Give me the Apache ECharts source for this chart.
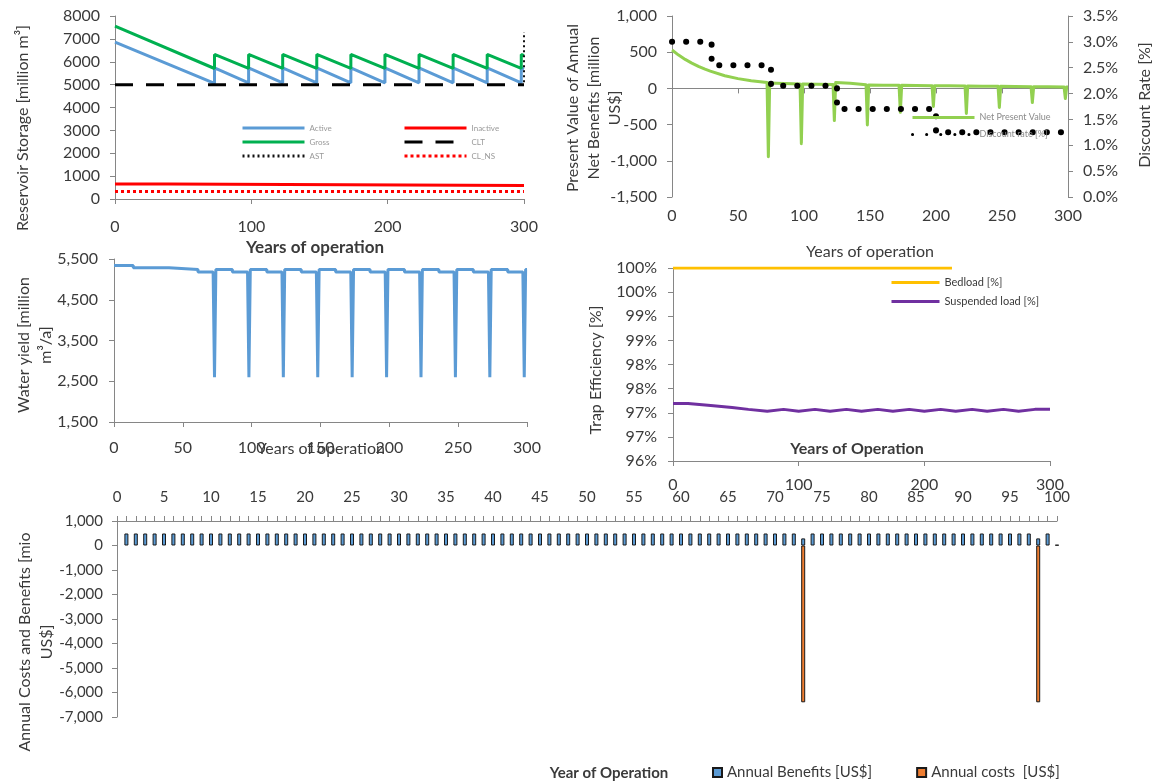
<!DOCTYPE html>
<html><head><meta charset="utf-8">
<script src="https://cdn.jsdelivr.net/npm/echarts@6/dist/echarts.min.js"></script>
<style>html,body{margin:0;padding:0;background:#fff}#c{width:1158px;height:784px}</style>
</head><body><div id="c"></div>
<script>
// ---------- Panel 1: reservoir storage ----------
const storageYears = [0,73,73,98,98,123,123,148,148,173,173,198,198,223,223,248,248,273,273,298,298,300];
const grossStorage = [7560,5705,6320,5710,6320,5710,6320,5710,6320,5710,6320,5710,6320,5710,6320,5710,6320,5710,6320,5710,6320,6270];
const activeStorage = [6860,5050,5730,5080,5730,5080,5730,5080,5730,5080,5730,5080,5730,5080,5730,5080,5730,5080,5730,5080,5730,5680];
const inactiveYears = [0,39,39,300];
const inactiveStorage = [660,660,590,590];
const cltYears = [0,300];
const cltStorage = [5000,5000];
const astYears = [300,300];
const astStorage = [5100,7300];
const clnsYears = [0,300];
const clnsStorage = [330,330];

// ---------- Panel 2: present value & discount rate ----------
const npvYears = [0,5,10,15,20,25,29,30,40,50,60,72,73,74,85,97,98,99,110,122,123,124,135,147,148,149,160,172,173,174,185,197,198,199,210,222,223,224,235,247,248,249,260,272,273,274,285,297,298,299,300];
const npvValues = [530,460,400,350,305,265,238,225,175,135,105,80,-944,75,68,62,-763,62,58,55,-445,80,70,50,-504,48,45,42,-331,42,40,38,-250,38,35,33,-345,33,30,28,-263,28,26,24,-195,24,22,20,-140,20,20];
const discYears = [0,30,30,75,75,125,125,200,200,300];
const discRates = [3.0,3.0,2.55,2.55,2.15,2.15,1.7,1.7,1.25,1.25];

// ---------- Panel 3: water yield ----------
const yieldYears = [0,14,14,40,40,61,61,72,73,74,86,86,97,98,99,111,111,122,123,124,136,136,147,148,149,161,161,172,173,174,186,186,197,198,199,211,211,222,223,224,236,236,247,248,249,261,261,272,273,274,286,286,297,298,299,300];
const yieldValues = [5340,5340,5285,5285,5240,5240,5180,5180,2600,5240,5240,5180,5180,2600,5240,5240,5180,5180,2600,5240,5240,5180,5180,2600,5240,5240,5180,5180,2600,5240,5240,5180,5180,2600,5240,5240,5180,5180,2600,5240,5240,5180,5180,2600,5240,5240,5180,5180,2600,5240,5240,5180,5180,2600,5240,5240];

// ---------- Panel 4: trap efficiency ----------
const bedloadYears = [0,222];
const bedloadTE = [100,100];
const suspYears = [0,12,12,30,30,47,47,60,60,75,75,88,88,100,100,113,113,125,125,138,138,150,150,163,163,175,175,188,188,200,200,213,213,225,225,238,238,250,250,263,263,275,275,288,288,300];
const suspTE = [97.19,97.19,97.15,97.15,97.11,97.11,97.07,97.07,97.03,97.03,97.07,97.07,97.03,97.03,97.07,97.07,97.03,97.03,97.07,97.07,97.03,97.03,97.07,97.07,97.03,97.03,97.07,97.07,97.03,97.03,97.07,97.07,97.03,97.03,97.07,97.07,97.03,97.03,97.07,97.07,97.03,97.03,97.07,97.07,97.03,97.07];

// ---------- Panel 5: annual costs and benefits ----------
const benefitYears = [1,2,3,4,5,6,7,8,9,10,11,12,13,14,15,16,17,18,19,20,21,22,23,24,25,26,27,28,29,30,31,32,33,34,35,36,37,38,39,40,41,42,43,44,45,46,47,48,49,50,51,52,53,54,55,56,57,58,59,60,61,62,63,64,65,66,67,68,69,70,71,72,73,74,75,76,77,78,79,80,81,82,83,84,85,86,87,88,89,90,91,92,93,94,95,96,97,98,99,100];
const benefitValues = [
 490,490,490,490,490,490,490,490,490,490,
 490,490,490,490,490,490,490,490,490,490,
 490,490,490,490,490,490,490,490,490,490,
 490,490,490,490,490,490,490,490,490,490,
 490,490,490,490,490,490,490,490,490,490,
 490,490,490,490,490,490,490,490,490,490,
 490,490,490,490,490,490,490,490,490,490,
 490,490,290,490,490,490,490,490,490,490,
 490,490,490,490,490,490,490,490,490,490,
 490,490,490,490,490,490,490,290,490,25];
const costYears = [73,98];
const costValues = [-6400,-6400];

const zip = (xs, ys) => xs.map((x, i) => [x, ys[i]]);

const FONT = 'Lato';
const TXT = '#3a3a3a';
const AX = '#868686';
const lbl = (extra) => Object.assign({fontFamily: FONT, fontSize: 16, color: TXT}, extra || {});
const comma = v => v.toLocaleString('en-US');
const plain = v => String(v);

function vAxis(o) {
  return Object.assign({
    type: 'value',
    axisLine: {show: true, onZero: false, lineStyle: {color: AX, width: 1}},
    axisTick: {show: true, length: 5, lineStyle: {color: AX}},
    splitLine: {show: false},
    axisLabel: lbl({margin: 14})
  }, o);
}

const lineLegend = (o) => Object.assign({
  orient: 'vertical', itemHeight: 10, itemGap: 6,
  itemStyle: {opacity: 0, borderWidth: 0},
  lineStyle: {width: 3},
  textStyle: {fontFamily: FONT, fontSize: 8, color: '#999'}
}, o);

const chart = echarts.init(document.getElementById('c'), null, {renderer: 'canvas'});

const option = {
  animation: false,
  backgroundColor: '#ffffff',
  grid: [
    {left: 115, top: 16, width: 409, height: 183, outerBoundsMode: 'none'},
    {left: 672, top: 16, width: 396, height: 181, outerBoundsMode: 'none'},
    {left: 114, top: 259, width: 413, height: 163, outerBoundsMode: 'none'},
    {left: 673, top: 268, width: 377, height: 193, outerBoundsMode: 'none'},
    {left: 117, top: 521, width: 940, height: 196, outerBoundsMode: 'none'}
  ],
  xAxis: [
    vAxis({gridIndex: 0, min: 0, max: 300, interval: 100, axisLabel: lbl({margin: 20})}),
    vAxis({gridIndex: 1, min: 0, max: 300, interval: 50, position: 'bottom',
      axisLine: {show: true, onZero: true, lineStyle: {color: AX}}, axisLabel: {show: false}}),
    vAxis({gridIndex: 1, min: 0, max: 300, interval: 50, position: 'bottom',
      axisLine: {show: false, onZero: false}, axisTick: {show: false}, axisLabel: lbl({margin: 11})}),
    vAxis({gridIndex: 2, min: 0, max: 300, interval: 50, axisLabel: lbl({margin: 18})}),
    vAxis({gridIndex: 3, min: 0, max: 300, interval: 100, axisLabel: lbl({margin: 16})}),
    vAxis({gridIndex: 4, min: 0, max: 100, interval: 5, position: 'top',
      minorTick: {show: true, splitNumber: 5, length: 5, lineStyle: {color: AX}},
      axisLabel: lbl({margin: 16, fontSize: 15})})
  ],
  yAxis: [
    vAxis({gridIndex: 0, min: 0, max: 8000, interval: 1000, axisLabel: lbl({margin: 15, formatter: plain})}),
    vAxis({gridIndex: 1, min: -1500, max: 1000, interval: 500, axisLabel: lbl({margin: 15, formatter: comma})}),
    vAxis({gridIndex: 1, min: 0, max: 3.5, interval: 0.5, position: 'right',
      axisLabel: lbl({margin: 15, formatter: v => v.toFixed(1) + '%'})}),
    vAxis({gridIndex: 2, min: 1500, max: 5500, interval: 1000, axisLabel: lbl({margin: 16, formatter: comma})}),
    vAxis({gridIndex: 3, min: 96, max: 100, interval: 0.5,
      axisLabel: lbl({margin: 16, formatter: v => Math.round(v + 1e-9) + '%'})}),
    vAxis({gridIndex: 4, min: -7000, max: 1000, interval: 1000, axisLabel: lbl({margin: 14, fontSize: 15, formatter: comma})})
  ],
  legend: [
    lineLegend({data: ['Active', 'Gross', 'AST'], left: 236, top: 119, itemWidth: 62}),
    lineLegend({data: ['Inactive', 'CLT', 'CL_NS'], left: 398, top: 119, itemWidth: 62}),
    lineLegend({data: ['Net Present Value', 'Discount rate [%]'], left: 906, top: 108, itemWidth: 62, itemGap: 8,
      textStyle: {fontFamily: FONT, fontSize: 9, color: '#8a8a8a'}}),
    lineLegend({data: ['Bedload [%]', 'Suspended load [%]'], left: 885, top: 272, itemWidth: 48, itemHeight: 12, itemGap: 8,
      textStyle: {fontFamily: FONT, fontSize: 11, color: TXT}}),
    {data: ['Annual Benefits [US$]', 'Annual costs  [US$]'], orient: 'horizontal', left: 707, top: 760, itemWidth: 9, itemHeight: 9, itemGap: 44,
      icon: 'rect', textStyle: {fontFamily: FONT, fontSize: 15, color: TXT}}
  ],
  graphic: [
    {type: 'text', x: 23, y: 128, rotation: Math.PI / 2, style: {text: 'Reservoir Storage [million m³]', font: '16px Lato', fill: TXT, textAlign: 'center', textVerticalAlign: 'middle'}},
    {type: 'text', x: 315, y: 248, style: {text: 'Years of operation', font: 'bold 17px Lato', fill: TXT, textAlign: 'center', textVerticalAlign: 'middle'}},
    {type: 'text', x: 594, y: 108, rotation: Math.PI / 2, style: {text: 'Present Value of Annual\nNet Benefits [million\nUS$]', font: '16px Lato', lineHeight: 21, fill: TXT, textAlign: 'center', textVerticalAlign: 'middle'}},
    {type: 'text', x: 1145, y: 105, rotation: Math.PI / 2, style: {text: 'Discount Rate [%]', font: '16px Lato', fill: TXT, textAlign: 'center', textVerticalAlign: 'middle'}},
    {type: 'text', x: 870, y: 252, style: {text: 'Years of operation', font: '16px Lato', fill: TXT, textAlign: 'center', textVerticalAlign: 'middle'}},
    {type: 'text', x: 35, y: 345, rotation: Math.PI / 2, style: {text: 'Water yield [million\nm³/a]', font: '16px Lato', lineHeight: 22, fill: TXT, textAlign: 'center', textVerticalAlign: 'middle'}},
    {type: 'text', x: 321, y: 449, style: {text: 'Years of operation', font: '16px Lato', fill: TXT, textAlign: 'center', textVerticalAlign: 'middle'}},
    {type: 'text', x: 596, y: 370, rotation: Math.PI / 2, style: {text: 'Trap Efficiency [%]', font: '16px Lato', fill: TXT, textAlign: 'center', textVerticalAlign: 'middle'}},
    {type: 'text', x: 857, y: 449, style: {text: 'Years of Operation', font: 'bold 16px Lato', fill: TXT, textAlign: 'center', textVerticalAlign: 'middle'}},
    {type: 'text', x: 36, y: 642, rotation: Math.PI / 2, style: {text: 'Annual Costs and Benefits [mio\nUS$]', font: '16px Lato', lineHeight: 22, fill: TXT, textAlign: 'center', textVerticalAlign: 'middle'}},
    {type: 'text', x: 609, y: 773, style: {text: 'Year of Operation', font: 'bold 15px Lato', fill: TXT, textAlign: 'center', textVerticalAlign: 'middle'}}
  ],
  series: [
    // panel 1
    {name: 'Active', type: 'line', xAxisIndex: 0, yAxisIndex: 0, data: zip(storageYears, activeStorage), symbol: 'none',
      lineStyle: {color: '#5B9BD5', width: 3}, itemStyle: {color: '#5B9BD5'}},
    {name: 'Gross', type: 'line', xAxisIndex: 0, yAxisIndex: 0, data: zip(storageYears, grossStorage), symbol: 'none',
      lineStyle: {color: '#00B050', width: 3}, itemStyle: {color: '#00B050'}},
    {name: 'AST', type: 'line', xAxisIndex: 0, yAxisIndex: 0, data: zip(astYears, astStorage), symbol: 'none',
      lineStyle: {color: '#111', width: 2, type: [2, 3]}, itemStyle: {color: '#111'}},
    {name: 'Inactive', type: 'line', xAxisIndex: 0, yAxisIndex: 0, data: zip(inactiveYears, inactiveStorage), symbol: 'none',
      lineStyle: {color: '#FF0000', width: 3}, itemStyle: {color: '#FF0000'}},
    {name: 'CLT', type: 'line', xAxisIndex: 0, yAxisIndex: 0, data: zip(cltYears, cltStorage), symbol: 'none',
      lineStyle: {color: '#000', width: 3, type: [18, 13]}, itemStyle: {color: '#000'}},
    {name: 'CL_NS', type: 'line', xAxisIndex: 0, yAxisIndex: 0, data: zip(clnsYears, clnsStorage), symbol: 'none',
      lineStyle: {color: '#FF0000', width: 3, type: [3, 3]}, itemStyle: {color: '#FF0000'}},
    // panel 2
    {name: 'Net Present Value', type: 'line', xAxisIndex: 1, yAxisIndex: 1, data: zip(npvYears, npvValues), symbol: 'none',
      lineStyle: {color: '#92D050', width: 3, join: 'round'}, itemStyle: {color: '#92D050'}},
    {name: 'Discount rate [%]', type: 'line', xAxisIndex: 1, yAxisIndex: 2, data: zip(discYears, discRates), symbol: 'none',
      lineStyle: {color: '#000', width: 6, type: [0.1, 14], cap: 'round'}, itemStyle: {color: '#000'}},
    // panel 3
    {name: 'Water yield', type: 'line', xAxisIndex: 3, yAxisIndex: 3, data: zip(yieldYears, yieldValues), symbol: 'none',
      lineStyle: {color: '#5B9BD5', width: 3}, itemStyle: {color: '#5B9BD5'}},
    // panel 4
    {name: 'Bedload [%]', type: 'line', xAxisIndex: 4, yAxisIndex: 4, data: zip(bedloadYears, bedloadTE), symbol: 'none',
      lineStyle: {color: '#FFC000', width: 3}, itemStyle: {color: '#FFC000'}},
    {name: 'Suspended load [%]', type: 'line', xAxisIndex: 4, yAxisIndex: 4, data: zip(suspYears, suspTE), symbol: 'none',
      lineStyle: {color: '#7030A0', width: 3}, itemStyle: {color: '#7030A0'}},
    // panel 5
    {name: 'Annual Benefits [US$]', type: 'bar', xAxisIndex: 5, yAxisIndex: 5, data: zip(benefitYears, benefitValues),
      barWidth: 4, barGap: '-100%', itemStyle: {color: '#5B9BD5', borderColor: '#1a1a1a', borderWidth: 1}},
    {name: 'Annual costs  [US$]', type: 'bar', xAxisIndex: 5, yAxisIndex: 5, data: zip(costYears, costValues),
      barWidth: 4, barGap: '-100%', itemStyle: {color: '#ED7D31', borderColor: '#1a1a1a', borderWidth: 1}}
  ]
};
chart.setOption(option);
</script></body></html>
